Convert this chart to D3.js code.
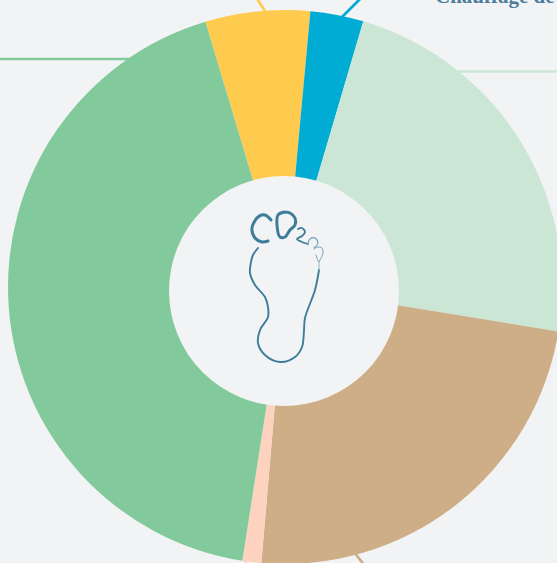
<!DOCTYPE html>
<html>
<head>
<meta charset="utf-8">
<style>
  html, body { margin: 0; padding: 0; background: #f2f3f5; overflow: hidden; }
  svg { display: block; }
</style>
</head>
<body>
<svg width="557" height="563"></svg>
<script src="https://d3js.org/d3.v7.min.js"></script>
<script>

  // share of the footprint per slice, clockwise from the yellow one
  var categories = ["jaune", "bleu", "chauffage", "brun", "rose", "vert"];
  var shares = [6.1, 3.1, 23.0, 23.8, 1.1, 42.9];
  var colors = ["#ffcb4f", "#00acd4", "#cce6d5", "#ceae86", "#fdd3c0", "#82ca9c"];

  var firstAngle = -16.7 * Math.PI / 180;

  var svg = d3.select("svg"),
    width = +svg.attr("width"),
    height = +svg.attr("height");

  var pie = d3.pie()
    .sort(null)
    .startAngle(firstAngle)
    .endAngle(firstAngle + 2 * Math.PI);

  var arc = d3.arc().innerRadius(0).outerRadius(277);

  // leader lines, cut off by the window
  var leaders = svg.append("g").attr("fill", "none").attr("stroke-width", 2.7);
  leaders.append("path").attr("stroke", colors[0]).attr("d", "M256,-3L265,11");
  leaders.append("path").attr("stroke", colors[1]).attr("d", "M361,-2L342,17");
  leaders.append("path").attr("stroke", colors[2]).attr("d", "M455,71.5H557");
  leaders.append("path").attr("stroke", colors[5]).attr("d", "M0,59H130");
  leaders.append("path").attr("stroke", colors[3]).attr("d", "M354,552L365,566");
  leaders.append("path").attr("stroke", colors[4]).attr("d", "M246,558L245,566");

  svg.append("g")
    .attr("transform", "translate(285,287)")
    .selectAll("path")
    .data(pie(shares))
    .enter().append("path")
    .attr("fill", function (d, i) { return colors[i]; })
    .attr("d", arc);

  svg.append("circle")
    .attr("cx", 284).attr("cy", 291).attr("r", 115)
    .attr("fill", "#f2f3f5");

  svg.append("text")
    .attr("x", 435).attr("y", 3)
    .attr("font-family", "'Liberation Serif', serif")
    .attr("font-weight", "bold")
    .attr("font-size", 21)
    .attr("fill", "#4a7c9b")
    .text("Chauffage de");

  // foot icon, hand traced
  var trace = d3.line().curve(d3.curveCatmullRom);
  var foot = svg.append("g").attr("fill", "none").attr("stroke", "#3d7d9b").attr("stroke-linecap", "round");

  function stroke(points, w, col) {
    foot.append("path").attr("stroke-width", w).attr("stroke", col || null).attr("d", trace(points));
  }

  stroke([[258,248],[253,255],[251,262],[250,273],[255,285],[265,297],[268,307],[268,317],[260,330],[258,343],[265,355],[280,362],[295,357],[302,347],[304,330],[305,318],[315,290],[319,270]], 1.9);
  stroke([[319,270],[319,262]], 1, "#8fb3c4");
  stroke([[271,220],[265,215],[258,217],[252,228],[255,238],[262,242],[268,241]], 3);
  stroke([[284,212],[278,215],[277,225],[280,237],[285,237],[290,230],[295,225],[295,218],[290,213],[284,212]], 3);
  stroke([[298,229],[302,228],[305,232],[302,236],[297,239],[302,242],[308,244]], 1.8);
  stroke([[308,243],[310,239],[315,238],[318,243],[314,248]], 1.1, "#6b9bb2");
  stroke([[314,249],[318,247],[322,248],[323,253],[320,260],[319,262],[316,255]], 0.9, "#6b9bb2");

</script>
</body>
</html>
